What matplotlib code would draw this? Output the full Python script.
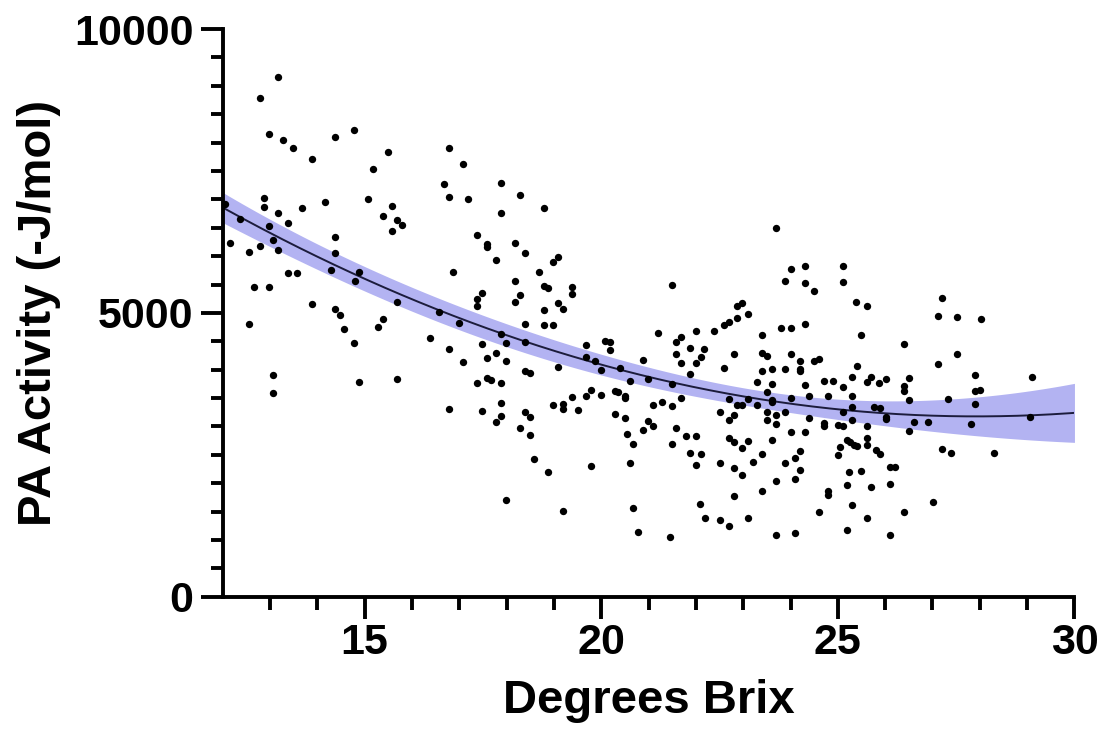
## PA ACTIVITY VS DEGREES BRIX
#  scatter of measurements with a second order polynomial fit and its 95% confidence band
import numpy as np
import matplotlib.pyplot as plt


## DATA
#  values
brix = [
    13.17, 12.78, 12.97, 13.28, 13.48, 13.88, 14.38, 14.78, 15.49, 15.17,
    12.05, 12.88, 12.88, 13.17, 13.67, 14.17, 15.07, 15.58, 15.38, 15.68,
    15.79, 15.58, 12.37, 12.97, 13.38, 12.16, 12.56, 12.78, 13.06, 13.17,
    14.38, 14.38, 14.29, 13.38, 13.57, 12.67, 12.97, 14.79, 14.89, 15.68,
    13.88, 14.38, 14.48, 14.57, 12.56, 15.38, 15.29,
    14.78, 13.06, 13.06, 14.89, 15.68,
    16.79, 17.08, 16.67, 16.78, 17.18, 17.88, 17.88, 18.29, 18.79, 17.37,
    17.58, 17.59, 18.17, 18.38, 17.77, 16.87, 18.68, 18.99, 19.09, 18.17,
    18.79, 18.88, 19.39, 19.39, 18.29, 18.17, 17.49, 17.37, 17.37, 19.09,
    19.19, 18.79, 16.58, 16.99, 18.40, 18.79, 18.99, 17.88, 16.39,
    16.79, 17.08, 17.49, 17.99, 18.38, 17.59, 17.78, 17.99, 18.38, 18.50,
    17.37, 17.59, 17.67, 17.88, 16.79, 17.49, 17.88, 17.88, 17.78, 18.38,
    18.50, 18.29, 18.50, 18.59, 18.88, 17.99, 19.09, 18.98, 19.19, 19.19,
    19.39, 19.50, 19.68, 19.79, 19.99, 19.68, 19.68, 19.87, 19.99, 20.09,
    20.18, 20.18, 20.39, 20.60, 20.30, 20.36, 20.50, 20.50, 20.30, 20.50,
    20.54, 20.68, 19.79, 20.60, 19.19, 20.68, 20.78,
    23.70, 21.49, 24.01, 24.30, 23.89, 24.30, 24.50, 25.11, 25.11, 25.39,
    22.88, 22.98, 22.88, 23.10, 22.69, 22.60, 22.39, 22.00, 21.19, 21.68,
    23.39, 23.80, 24.01, 24.30,
    25.61, 27.21, 27.11, 27.51, 28.02,
    25.50, 26.39, 27.51, 27.11, 27.90, 29.11, 25.61, 25.71, 25.86, 26.01,
    26.51, 26.39, 26.39, 27.90, 28.01, 26.51, 27.32, 27.90, 25.76, 25.90,
    26.01, 26.01, 26.61, 26.91, 27.81, 29.07, 25.61, 26.51, 25.61, 25.61,
    25.81, 25.90, 27.21, 27.40, 28.31, 25.50, 26.10, 26.20, 25.71, 26.10,
    27.01, 26.39, 25.61, 26.10,
    21.59, 21.88, 22.18, 20.88, 21.59, 21.69, 22.10, 22.00, 21.88, 22.81,
    22.60, 23.39, 23.50, 23.39, 23.60, 23.89, 24.01, 24.21, 24.21, 24.21,
    24.50, 24.60, 20.99, 21.49, 21.69, 21.09, 21.29, 21.49, 23.30, 23.60,
    23.50, 23.60, 23.60, 24.01, 24.30, 24.39, 24.70, 24.89, 25.10, 25.30,
    25.41, 24.80, 25.30, 25.30, 25.10, 25.30, 22.70, 22.88, 22.98, 23.10,
    23.30, 22.81, 22.70, 22.50, 23.50, 23.50, 23.70, 23.70, 23.89, 24.39,
    24.70, 24.70, 25.01, 25.11, 20.88, 20.99, 21.09, 21.59, 21.49, 21.80,
    22.00, 21.88, 22.10, 22.00, 22.70, 22.81, 23.10, 22.98, 23.60, 24.01,
    24.30, 23.39, 23.20, 22.50, 22.81, 22.98, 23.89, 24.10, 24.21, 24.21,
    24.10, 23.70, 23.39, 22.81, 25.01, 25.05, 25.20, 25.25, 25.35, 25.41,
    25.23, 25.20, 25.30, 24.80, 24.80, 24.60, 22.09, 22.19, 22.50, 22.70,
    23.10, 23.70, 24.10, 25.20, 21.45,
]
activity = [
    9150, 8780, 8160, 8040, 7900, 7720, 8100, 8230, 7830, 7530,
    6920, 7020, 6860, 6760, 6850, 6950, 7010, 6890, 6700, 6640,
    6550, 6440, 6650, 6540, 6590, 6230, 6070, 6180, 6280, 6100,
    6340, 6060, 5760, 5710, 5710, 5450, 5450, 5570, 5720, 5190,
    5150, 5070, 4960, 4710, 4800, 4890, 4760,
    4470, 3900, 3590, 3780, 3830,
    7900, 7620, 7270, 7050, 7000, 7290, 6760, 7080, 6850, 6380,
    6210, 6170, 6230, 6060, 5940, 5730, 5730, 5900, 5990, 5560,
    5470, 5440, 5460, 5330, 5320, 5190, 5360, 5240, 5130, 5180,
    5070, 5060, 5010, 4830, 4800, 4790, 4780, 4630, 4560,
    4370, 4140, 4450, 4470, 4490, 4210, 4290, 4150, 3970, 3950,
    3770, 3860, 3820, 3770, 3310, 3270, 3420, 3190, 3080, 3260,
    3160, 2970, 2850, 2420, 2200, 1700, 4040, 3380, 3400, 3300,
    3520, 3290, 3530, 3640, 3560, 4440, 4220, 4160, 3990, 4500,
    4490, 4340, 4030, 3810, 3630, 3610, 3530, 3500, 3220, 3150,
    2870, 2700, 2310, 2350, 1510, 1560, 1140,
    6500, 5500, 5780, 5820, 5570, 5530, 5380, 5820, 5550, 5190,
    5120, 5180, 4910, 4980, 4840, 4780, 4690, 4690, 4640, 4580,
    4610, 4730, 4730, 4800,
    5130, 5270, 4940, 4930, 4890,
    4610, 4450, 4270, 4100, 3910, 3870, 3790, 3870, 3760, 3840,
    3850, 3710, 3630, 3630, 3640, 3460, 3480, 3400, 3350, 3320,
    3160, 3130, 3080, 3080, 3050, 3160, 3000, 2920, 2800, 2680,
    2590, 2520, 2600, 2530, 2540, 2220, 2290, 2290, 1940, 1990,
    1670, 1490, 1380, 1090,
    4490, 4380, 4360, 4170, 4270, 4110, 4230, 4110, 3930, 4280,
    4030, 4300, 4240, 3970, 4020, 4020, 4270, 4160, 4010, 3970,
    4150, 4180, 3840, 3740, 3510, 3380, 3440, 3360, 3780, 3750,
    3600, 3470, 3440, 3510, 3730, 3540, 3810, 3800, 3700, 3880,
    4070, 3530, 3530, 3350, 3260, 3120, 3480, 3370, 3370, 3490,
    3380, 3200, 3120, 3260, 3260, 3120, 3200, 3040, 3260, 3150,
    3060, 3010, 3030, 3000, 2940, 3090, 3000, 2970, 2690, 2840,
    2830, 2530, 2510, 2330, 2790, 2730, 2750, 2620, 2760, 2910,
    2900, 2520, 2380, 2360, 2260, 2140, 2350, 2440, 2560, 2240,
    2080, 2040, 1870, 1780, 2490, 2630, 2760, 2720, 2680, 2650,
    2200, 1970, 1620, 1870, 1800, 1500, 1640, 1390, 1360, 1240,
    1380, 1080, 1120, 1180, 1050,
]

# quadratic fit as drawn in the figure: y = c0 + c1*(x-20) + c2*(x-20)^2
fit_coef = [4090, -230, 14.5]

# half width of the confidence band read at a few Brix values
band_x = [12, 14.3, 16.6, 20.4, 23.6, 25.5, 26.5, 28.3, 30]
band_half = [265, 225, 205, 175, 160, 200, 240, 370, 520]


## FIT CURVE AND BAND
x = np.array(brix)
y = np.array(activity)

xf = np.linspace(12, 30, 300)
t = xf - 20
yf = fit_coef[0] + fit_coef[1]*t + fit_coef[2]*t**2

# smooth the read half widths (CI width grows like sqrt of a quartic)
p = np.polyfit(band_x, np.array(band_half)**2, 4)
half = np.sqrt(np.clip(np.polyval(p, xf), 0, None))


## PLOT
plt.rcParams['font.family'] = ['Liberation Sans', 'DejaVu Sans']
plt.rcParams['font.weight'] = 'bold'

fig = plt.figure(figsize=(11.02, 7.46), dpi=100)
ax = fig.add_axes([0.202, 0.200, 0.773, 0.761])

ax.fill_between(xf, yf - half, yf + half, color='#b3b3f2', linewidth=0, zorder=1)
ax.plot(xf, yf, color='#1c1c3c', linewidth=1.4, zorder=2)
ax.scatter(x, y, s=28, color='black', linewidths=0, zorder=3, clip_on=False)

ax.set_xlim(12, 30)
ax.set_ylim(0, 10000)
ax.set_xticks([15, 20, 25, 30])
ax.set_xticks(np.arange(13, 30), minor=True)
ax.set_yticks([0, 5000, 10000])
ax.set_yticks(np.arange(0, 10001, 500), minor=True)

for side in ['top', 'right']:
    ax.spines[side].set_visible(False)
for side in ['left', 'bottom']:
    ax.spines[side].set_linewidth(2.8)

ax.tick_params(which='major', length=16, width=2.8, labelsize=31)
ax.tick_params(axis='x', which='major', pad=3)
ax.tick_params(axis='y', which='major', pad=5)
ax.tick_params(which='minor', length=9, width=2.8)

ax.set_xlabel("Degrees Brix", fontsize=34, fontweight='bold')
ax.set_ylabel("PA Activity (-J/mol)", fontsize=34, fontweight='bold')
ax.xaxis.set_label_coords(0.5, -0.145, transform=ax.transAxes)
ax.yaxis.set_label_coords(-0.19, 0.5, transform=ax.transAxes)

fig.savefig("out.png", dpi=100)
